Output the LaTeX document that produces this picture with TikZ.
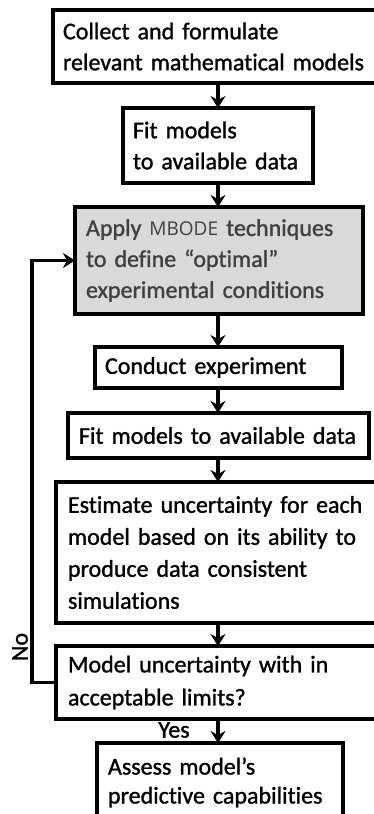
\documentclass[tikz,border=0pt]{standalone}
\usepackage{fontspec}
\setmainfont[Ligatures=NoCommon, FakeBold=1.2]{Carlito}
\newfontfamily\acrofont{Open Sans}
\usetikzlibrary{arrows.meta}
\definecolor{stepfill}{HTML}{D9D9D9}
\definecolor{steptext}{HTML}{404040}
\newcommand\boxfont[1]{\fontsize{24}{#1}\selectfont\spaceskip=0.17em plus 0.05em minus 0.03em\relax}
\begin{document}
\begin{tikzpicture}[x=1pt,y=-1pt,
  stepbox/.style={draw=black, line width=4pt, anchor=north west, outer sep=0pt,
    inner xsep=10pt, inner ysep=0pt, align=left, font=\boxfont{31}},
  flow/.style={line width=3.5pt, -{Stealth[length=12pt,width=15pt,inset=4pt]}},
  tag/.style={font=\boxfont{31}, inner sep=0pt}
]
\useasboundingbox (0,0) rectangle (374,814);
% vertical axis shared by the downward arrows
\coordinate (axis) at (218,0);

\node[stepbox, minimum width=340pt, minimum height=73pt, text width=320pt]
  (collect) at (53,10) {Collect and formulate\\relevant mathematical models};
\node[stepbox, minimum width=190pt, minimum height=75pt, text width=170pt]
  (fitA) at (123,108) {Fit models\\to available data};
\node[stepbox, fill=stepfill, text=steptext, minimum width=288pt, minimum height=107pt, text width=266pt, inner xsep=11pt]
  (design) at (75,207) {Apply {\acrofont\fontsize{19}{31}\selectfont MBODE} techniques\\to define “optimal”\\experimental conditions};
\node[stepbox, minimum width=247pt, minimum height=41pt, text width=227pt]
  (conduct) at (95,347) {Conduct experiment};
\node[stepbox, minimum width=301pt, minimum height=45pt, text width=279pt, inner xsep=11pt]
  (fitB) at (68,413) {Fit models to available data};
\node[stepbox, minimum width=334pt, minimum height=141pt, text width=310pt, inner xsep=12pt,
  font=\boxfont{32}]
  (estimate) at (56,482) {Estimate uncertainty for each\\model based on its ability to\\produce data consistent\\simulations};
\node[stepbox, minimum width=334pt, minimum height=73pt, text width=310pt, inner xsep=12pt,
  font=\boxfont{33}]
  (check) at (56,646) {Model uncertainty with in\\acceptable limits?};
\node[stepbox, minimum width=246pt, minimum height=79pt, text width=224pt, inner xsep=11pt,
  font=\boxfont{29}]
  (assess) at (97,743) {Assess model’s\\predictive capabilities};

% main downward flow
\draw[flow] (collect.south -| axis) -- (fitA.north -| axis);
\draw[flow] (fitA.south -| axis) -- (design.north -| axis);
\draw[flow] (design.south -| axis) -- (conduct.north -| axis);
\draw[flow] (conduct.south -| axis) -- (fitB.north -| axis);
\draw[flow] (fitB.south -| axis) -- (estimate.north -| axis);
\draw[flow] (estimate.south -| axis) -- (check.north -| axis);
\draw[flow] (check.south -| axis) -- (assess.north -| axis);

% feedback loop when the uncertainty is too large
\coordinate (loopx) at (32,0);
\draw[flow] (check.west) -- (check.west -| loopx) |- (design.west);

\node[tag, rotate=90] (no) at (20,647) {No};
\node[tag] (yes) at (174,730) {Yes};
\end{tikzpicture}
\end{document}
